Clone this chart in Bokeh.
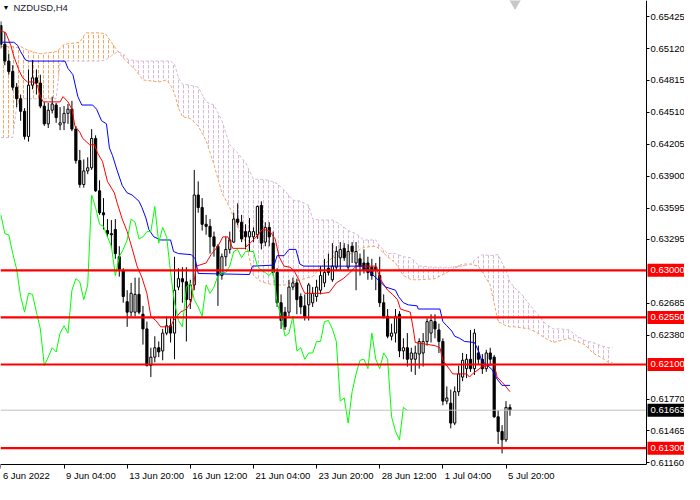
import numpy as np
from bokeh.plotting import figure
from bokeh.models import FixedTicker, Label, LinearAxis, NumeralTickFormatter
from bokeh.core.properties import value
from bokeh.embed import file_html
from bokeh.resources import INLINE

symbol = "NZDUSD,H4"
date_tick_bars = [0, 16, 32, 48, 64, 80, 96, 112, 128]
date_tick_labels = ["6 Jun 2022", "9 Jun 04:00", "13 Jun 20:00", "16 Jun 12:00", "21 Jun 04:00",
                    "23 Jun 20:00", "28 Jun 12:00", "1 Jul 04:00", "5 Jul 20:00"]
price_ticks = [0.65425, 0.65120, 0.64815, 0.64510, 0.64205, 0.63900, 0.63595, 0.63295,
               0.62685, 0.62380, 0.61770, 0.61465, 0.61160]
level_prices = [0.63000, 0.62550, 0.62100, 0.61300]
bid_price = 0.61663
y_min, y_max = 0.61144, 0.65579

opens = [.6534, .6516, .6500, .6490, .6475, .6464, .6452, .6428, .6477, .6484,
         .6479, .6457, .6440, .6453, .6458, .6439, .6441, .6450, .6454, .6435,
         .6405, .6382, .6395, .6398, .6426, .6376, .6355, .6338, .6335, .6339,
         .6313, .6300, .6270, .6260, .6260, .6277, .6258, .6244, .6209, .6217,
         .6226, .6223, .6240, .6247, .6240, .6284, .6292, .6289, .6272, .6286,
         .6372, .6360, .6344, .6342, .6332, .6323, .6295, .6313, .6320, .6327,
         .6349, .6346, .6337, .6332, .6332, .6334, .6362, .6327, .6341, .6326,
         .6298, .6269, .6260, .6260, .6284, .6288, .6275, .6266, .6267, .6269,
         .6275, .6281, .6288, .6302, .6291, .6303, .6312, .6321, .6303, .6323,
         .6307, .6311, .6307, .6307, .6303, .6303, .6295, .6269, .6256, .6237,
         .6240, .6258, .6223, .6226, .6215, .6215, .6220, .6221, .6232, .6240,
         .6251, .6243, .6232, .6175, .6173, .6154, .6184, .6198, .6206, .6215,
         .6206, .6221, .6215, .6206, .6221, .6217, .6160, .6146, .6138, .6169]
highs = [.6538, .6528, .6507, .6496, .6479, .6468, .6455, .6492, .6501, .6492,
         .6487, .6461, .6460, .6466, .6460, .6456, .6457, .6459, .6462, .6438,
         .6415, .6406, .6408, .6435, .6429, .6386, .6369, .6349, .6348, .6349,
         .6323, .6302, .6281, .6288, .6293, .6293, .6266, .6251, .6226, .6237,
         .6232, .6244, .6256, .6254, .6313, .6302, .6303, .6303, .6291, .6396,
         .6385, .6369, .6353, .6349, .6337, .6325, .6316, .6332, .6337, .6355,
         .6364, .6353, .6344, .6350, .6341, .6362, .6366, .6346, .6346, .6337,
         .6302, .6277, .6265, .6291, .6293, .6292, .6278, .6277, .6288, .6284,
         .6291, .6304, .6311, .6316, .6326, .6323, .6327, .6326, .6325, .6327,
         .6327, .6316, .6320, .6313, .6311, .6307, .6313, .6277, .6263, .6249,
         .6263, .6261, .6235, .6240, .6226, .6228, .6235, .6240, .6254, .6258,
         .6258, .6249, .6235, .6189, .6186, .6189, .6209, .6221, .6220, .6243,
         .6244, .6228, .6220, .6224, .6226, .6219, .6166, .6152, .6175, .6172]
lows = [.6512, .6496, .6487, .6472, .6456, .6443, .6425, .6423, .6473, .6468,
        .6455, .6438, .6436, .6450, .6441, .6434, .6434, .6440, .6433, .6402,
        .6379, .6379, .6392, .6396, .6375, .6353, .6339, .6332, .6321, .6311,
        .6294, .6269, .6246, .6256, .6256, .6258, .6229, .6208, .6198, .6212,
        .6217, .6214, .6238, .6231, .6215, .6281, .6269, .6232, .6263, .6281,
        .6355, .6338, .6334, .6316, .6313, .6266, .6291, .6304, .6316, .6326,
        .6343, .6327, .6320, .6318, .6327, .6330, .6320, .6323, .6323, .6295,
        .6265, .6244, .6243, .6256, .6281, .6258, .6258, .6252, .6252, .6265,
        .6270, .6277, .6284, .6295, .6289, .6300, .6300, .6309, .6300, .6307,
        .6281, .6295, .6297, .6291, .6291, .6281, .6265, .6254, .6235, .6233,
        .6231, .6217, .6215, .6208, .6203, .6200, .6206, .6208, .6228, .6231,
        .6235, .6221, .6171, .6172, .6149, .6152, .6180, .6194, .6197, .6203,
        .6200, .6210, .6201, .6203, .6210, .6159, .6134, .6125, .6136, .6161]
closes = [.6516, .6500, .6490, .6475, .6464, .6452, .6428, .6477, .6484, .6479,
          .6457, .6440, .6453, .6459, .6446, .6441, .6450, .6454, .6435, .6405,
          .6382, .6395, .6398, .6426, .6376, .6355, .6353, .6335, .6334, .6316,
          .6301, .6275, .6260, .6278, .6277, .6260, .6244, .6209, .6217, .6226,
          .6222, .6240, .6247, .6240, .6281, .6292, .6289, .6272, .6286, .6372,
          .6360, .6344, .6342, .6332, .6323, .6295, .6313, .6320, .6329, .6349,
          .6346, .6330, .6332, .6337, .6337, .6361, .6326, .6341, .6332, .6298,
          .6269, .6252, .6246, .6284, .6288, .6272, .6265, .6256, .6286, .6278,
          .6284, .6295, .6298, .6298, .6304, .6318, .6320, .6312, .6318, .6318,
          .6318, .6304, .6300, .6298, .6295, .6300, .6269, .6256, .6237, .6240,
          .6256, .6223, .6226, .6215, .6221, .6221, .6232, .6232, .6251, .6252,
          .6244, .6232, .6175, .6178, .6154, .6184, .6201, .6214, .6215, .6206,
          .6240, .6215, .6206, .6221, .6215, .6160, .6146, .6138, .6169, .61663]

tenkan_bar = [0, 1.25, 2.5, 3.25, 4.5, 5.5, 6.75, 8.25, 9.25, 10, 10.75, 15, 15.75, 17, 18, 18.75,
              20, 20.75, 22.5, 23.75, 24.5, 25.75, 27, 28.75, 29.5, 30.75, 32, 33.25, 34.5, 35.75,
              37, 38, 39.25, 40.5, 43, 43.75, 45.5, 47, 48.25, 49.5, 52, 53.25, 55, 56.25, 57.5,
              58.75, 61.75, 64.25, 66.25, 68, 68.75, 69.5, 70.5, 71.75, 73.25, 74.25, 75.5, 76.25,
              77, 81.75, 83.25, 85, 86.75, 88.25, 90, 95, 96.25, 98, 99.25, 100.5, 101.25, 103.75,
              104.5, 105, 110, 111.25, 112, 113.75, 114.5, 118, 118.75, 119.5, 122, 125, 125.75,
              127.5, 129]
tenkan = [.6529, .6527, .6515, .6505, .6492, .6484, .6480, .6480, .6477, .6466, .6461, .6461, .6466,
          .6461, .6454, .6438, .6432, .6426, .6420, .6420, .6412, .6404, .6385, .6374, .6364, .6349,
          .6337, .6321, .6304, .6293, .6278, .6256, .6252, .6246, .6246, .6252, .6260, .6263, .6270,
          .6304, .6307, .6315, .6323, .6332, .6332, .6321, .6321, .6330, .6339, .6338, .6334, .6330,
          .6313, .6304, .6303, .6300, .6291, .6284, .6278, .6278, .6279, .6288, .6292, .6297, .6304,
          .6304, .6291, .6281, .6277, .6272, .6263, .6260, .6244, .6231, .6228, .6226, .6214, .6205,
          .6201, .6201, .6198, .6201, .6208, .6210, .6198, .6191, .6184]

kijun_bar = [0, 3.25, 4.25, 5, 6.25, 7, 16.25, 17, 18.25, 19.5, 20.5, 23.25, 24.25, 25.5, 26.75,
             27.5, 28.25, 29.5, 30.75, 32, 33.25, 35, 35.75, 36.75, 37.5, 38.75, 40.5, 43, 43.75,
             45, 48.25, 49.25, 50, 63, 63.75, 69.25, 70, 71.75, 73, 74.75, 75.75, 76.75, 91.75,
             93, 95, 97.5, 100, 100.75, 102, 103.25, 105.5, 105.75, 111.25, 112, 113, 114.25, 115,
             116.25, 117.5, 120, 121.25, 121.75, 123, 124.5, 125.75, 127, 129]
kijun = [.6518, .6518, .6515, .6509, .6501, .6500, .6500, .6493, .6487, .6466, .6458, .6458, .6454,
         .6443, .6440, .6417, .6410, .6395, .6381, .6374, .6372, .6366, .6360, .6350, .6339, .6332,
         .6329, .6329, .6318, .6316, .6315, .6311, .6297, .6296, .6304, .6305, .6314, .6314, .6320,
         .6320, .6306, .6304, .6304, .6300, .6293, .6284, .6281, .6275, .6269, .6267, .6266, .6263,
         .6263, .6251, .6247, .6242, .6237, .6235, .6232, .6231, .6221, .6214, .6210, .6205, .6196,
         .6190, .6190]

cloud_bar = [0, 3, 4, 5, 7, 10, 14, 15, 16, 20, 21.5, 25, 26.5, 28, 29.5, 31, 32, 34, 36, 40, 42,
             43, 44, 45, 46, 48, 50, 52, 54, 56, 58, 60, 62, 64, 66, 68, 70, 72, 74, 76, 78, 79, 81,
             84, 86, 88, 90, 92, 95, 96, 98, 100, 102, 104, 106, 110, 114, 117, 119, 121, 122, 124,
             126, 127, 128, 129, 130, 132, 134, 136, 138, 140, 142, 144, 146, 148, 150, 152, 154, 155]
senkou_a = [.6514, .6514, .6513, .6514, .6510, .6507, .6509, .6512, .6516, .6518, .6527, .6527,
            .6526, .6518, .6510, .6503, .6499, .6492, .6482, .6480, .6482, .6477, .6469, .6455,
            .6447, .6445, .6438, .6424, .6401, .6374, .6360, .6341, .6327, .6295, .6289, .6287,
            .6286, .6286, .6289, .6291, .6293, .6294, .6303, .6312, .6313, .6315, .6318, .6322,
            .6323, .6320, .6313, .6307, .6295, .6291, .6291, .6292, .6300, .6306, .6306, .6304,
            .6298, .6286, .6251, .6249, .6247, .6246, .6246, .6245, .6244, .6240, .6235, .6231,
            .6233, .6235, .6232, .6229, .6221, .6217, .6212, .6212]
senkou_b = [.6427, .6427, .6457, .6464, .6464, .6464, .6464, .6498, .6500, .6500, .6500, .6500,
            .6501, .6505, .6509, .6507, .6502, .6500, .6500, .6500, .6500, .6500, .6497, .6484,
            .6478, .6477, .6475, .6461, .6458, .6443, .6420, .6412, .6403, .6387, .6387, .6386,
            .6383, .6376, .6367, .6366, .6362, .6349, .6348, .6348, .6344, .6338, .6335, .6329,
            .6329, .6323, .6316, .6316, .6313, .6312, .6304, .6303, .6303, .6304, .6306, .6313,
            .6315, .6314, .6315, .6307, .6300, .6289, .6284, .6277, .6267, .6258, .6249, .6244,
            .6244, .6243, .6237, .6233, .6231, .6228, .6226, .6226]
chikou_shift = 26
shift_marker_bar = 130.3

# ---- layout / style constants ----
FONT = "Liberation Sans"
FS = 9.5                     # font size in px
W, H = 684, 484
AXIS_PX = 646                # price-axis position inside the frame (px from left)
DATE_AXIS_PX = 464           # date-axis position inside the frame (px from top)
x_min = -0.1
price_axis_bar = 163.6
ppb = AXIS_PX / (price_axis_bar - x_min)
x_max = x_min + W / ppb
ppp = (y_max - y_min) / DATE_AXIS_PX          # price per px
y_bottom = y_min - (H - DATE_AXIS_PX) * ppp

CW = {" ": .278, ":": .278, ".": .278, "J": .5, "l": .222}


def text_px(s):
    return sum(CW.get(ch, .556) for ch in s) * FS


p = figure(width=W, height=H, x_range=(x_min, x_max), y_range=(y_bottom, y_max),
           output_backend="svg", toolbar_location=None,
           x_axis_location=None, y_axis_location=None,
           min_border_left=0, min_border_top=0, min_border_right=0, min_border_bottom=0)
p.background_fill_color = "white"
p.border_fill_color = "white"
p.outline_line_color = None
p.xgrid.visible = False
p.ygrid.visible = False

# cloud
cx = np.array(cloud_bar)
ca = np.array(senkou_a)
cb = np.array(senkou_b)
upper = np.maximum(ca, cb)
p.varea(x=cx, y1=cb, y2=upper, fill_color=None, hatch_pattern="vertical_dash",
        hatch_color="#f4a460", hatch_scale=5, hatch_weight=1)
p.varea(x=cx, y1=ca, y2=upper, fill_color=None, hatch_pattern="vertical_dash",
        hatch_color="#d8b8d8", hatch_scale=5, hatch_weight=1)
p.line(cx, ca, line_color="#f4a460", line_dash="3 2", line_width=1)
p.line(cx, cb, line_color="#d8b8d8", line_dash="3 2", line_width=1)

# candles
o = np.array(opens)
c = np.array(closes)
bars = np.arange(len(c))
up = c >= o
p.segment(x0=bars, x1=bars, y0=lows, y1=highs, line_color="black", line_width=1)
p.vbar(x=bars[up], top=c[up], bottom=o[up], width=0.55, fill_color="white",
       line_color="black", line_width=1)
p.vbar(x=bars[~up], top=o[~up], bottom=c[~up], width=0.55, fill_color="black",
       line_color="black", line_width=1)

# ichimoku lines
p.line(tenkan_bar, tenkan, line_color="red", line_width=1)
p.line(kijun_bar, kijun, line_color="blue", line_width=1)
p.line(bars[chikou_shift:] - chikou_shift, c[chikou_shift:], line_color="#00ff00", line_width=1)

# horizontal levels (stop at the price axis)
p.segment(x0=[x_min], x1=[price_axis_bar], y0=[bid_price], y1=[bid_price], line_color="#c0c0c0", line_width=1)
p.segment(x0=[x_min] * len(level_prices), x1=[price_axis_bar] * len(level_prices),
          y0=level_prices, y1=level_prices, line_color="red", line_width=2.2)

# price tags on the axis
box_w = W - AXIS_PX - 1
box_x = price_axis_bar + (1 + box_w / 2) / ppb
p.rect(x=[box_x] * len(level_prices), y=level_prices, width=box_w, height=13,
       width_units="screen", height_units="screen", fill_color="red", line_color=None)
p.rect(x=[box_x], y=[bid_price], width=box_w, height=13,
       width_units="screen", height_units="screen", fill_color="black", line_color=None)
p.text(x=[price_axis_bar + 4 / ppb] * (len(level_prices) + 1), y=level_prices + [bid_price],
       text=[f"{t:.5f}" for t in level_prices + [bid_price]], text_font=value(FONT),
       text_font_size=value(f"{FS}px"), text_color="white", text_baseline="middle", text_align="left")

# ---- price axis (real axis, placed at the right edge of the chart area) ----
yax = LinearAxis(fixed_location=price_axis_bar, ticker=FixedTicker(ticks=price_ticks),
                 formatter=NumeralTickFormatter(format="0.00000"), bounds=(y_min, y_max))
yax.major_label_text_font = FONT
yax.major_label_text_font_size = f"{FS}px"
yax.major_label_text_color = "black"
yax.major_label_standoff = 1
yax.major_tick_in = 0
yax.major_tick_out = 3
yax.minor_tick_in = 0
yax.minor_tick_out = 0
yax.axis_line_color = "black"
p.add_layout(yax, "right")

# ---- date axis: labels start just right of each tick ----
label_pos = [b + (text_px(s) / 2 + 2) / ppb for b, s in zip(date_tick_bars, date_tick_labels)]
xax = LinearAxis(fixed_location=y_min, ticker=FixedTicker(ticks=label_pos, minor_ticks=date_tick_bars),
                 bounds=(x_min, price_axis_bar))
xax.major_label_overrides = {pos: s for pos, s in zip(label_pos, date_tick_labels)}
xax.major_label_text_font = FONT
xax.major_label_text_font_size = f"{FS}px"
xax.major_label_text_color = "black"
xax.major_label_standoff = 1
xax.major_tick_in = 0
xax.major_tick_out = 0
xax.minor_tick_in = 0
xax.minor_tick_out = 4
xax.minor_tick_line_color = "black"
xax.axis_line_color = "black"
p.add_layout(xax, "below")

# title
p.add_layout(Label(x=x_min, y=y_max, text="\u25BC", x_offset=2, y_offset=-7, text_baseline="middle",
                   text_align="left", text_font=FONT, text_font_size="7px", text_color="black"))
p.add_layout(Label(x=x_min, y=y_max, text=symbol, x_offset=13, y_offset=-7, text_baseline="middle",
                   text_align="left", text_font=FONT, text_font_size="9.5px", text_color="#1a1a2e"))
p.scatter(x=[shift_marker_bar], y=[y_max], marker="inverted_triangle", size=15,
          fill_color="#c8c8c8", line_color="#c8c8c8")

open("out.html", "w").write(file_html(p, INLINE))
